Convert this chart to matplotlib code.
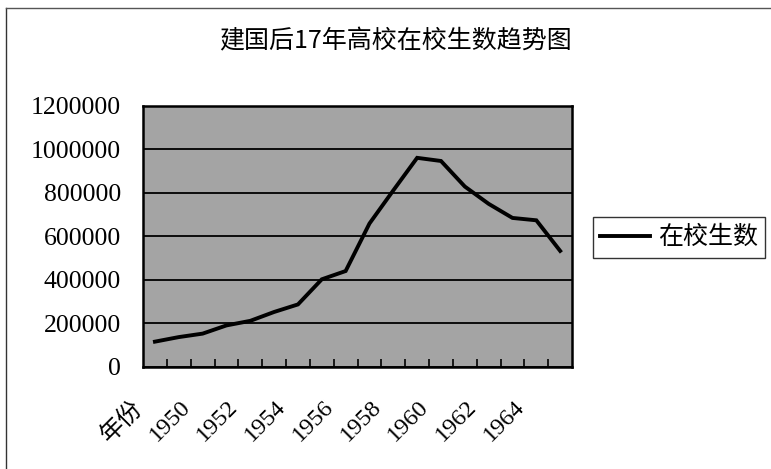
import numpy as np
import matplotlib
matplotlib.use("Agg")
import matplotlib.pyplot as plt
import matplotlib.transforms as mtransforms
from matplotlib.lines import Line2D

plt.rcParams['font.family'] = ['Liberation Serif', 'Noto Sans CJK SC']

# category axis (first cell is the header of the year column)
categories = ["年份", "1949", "1950", "1951", "1952", "1953", "1954", "1955", "1956",
              "1957", "1958", "1959", "1960", "1961", "1962", "1963", "1964", "1965"]
# 在校生数
students = [116504, 137470, 153402, 191147, 212181, 252978, 287653, 403176, 441181,
            659627, 811947, 961623, 947166, 829699, 750118, 685314, 674436, 533766]
yticks = [0, 200000, 400000, 600000, 800000, 1000000, 1200000]

title = "建国后17年高校在校生数趋势图"
series_name = "在校生数"
cjk = ['Noto Sans CJK SC', 'DejaVu Sans']

fig = plt.figure(figsize=(7.71, 4.69), dpi=100)
ax = fig.add_axes([0.1855, 0.2175, 0.5565, 0.5565])
ax.set_facecolor('#a4a4a4')

x = np.arange(len(categories))
line, = ax.plot(x, students, color='black', lw=2.8, solid_joinstyle='miter',
                label=series_name, zorder=3)

ax.set_xlim(-0.5, len(categories) - 0.5)
ax.set_ylim(yticks[0], yticks[-1])
ax.set_yticks(yticks)
ax.set_yticklabels([str(v) for v in yticks], fontsize=18.5)
ax.tick_params(axis='y', length=0, pad=16)
ax.grid(axis='y', color='black', lw=1.3)
ax.set_axisbelow(True)

# every other category label, rotated like a spreadsheet chart
ax.set_xticks(x[::2])
ax.set_xticklabels(categories[::2], rotation=45, ha='right', va='top', fontsize=17.5)
ax.tick_params(axis='x', length=0, pad=21)
shift = mtransforms.ScaledTranslation(-8 / 100, 0, fig.dpi_scale_trans)
for lab in ax.get_xticklabels():
    lab.set_transform(lab.get_transform() + shift)

# small inward marks on category boundaries
ax.set_xticks(np.arange(0.5, len(categories) - 1, 1.0), minor=True)
ax.tick_params(axis='x', which='minor', direction='in', length=6, width=1.2, color='black')

for s in ax.spines.values():
    s.set_linewidth(1.8)
    s.set_color('black')

fig.text(0.513, 1 - 41 / 469, title, ha='center', va='center', fontsize=18, family=cjk)

leg = ax.legend(handles=[line], loc='center left', bbox_to_anchor=(0.769, 0.494),
                bbox_transform=fig.transFigure, fancybox=False, frameon=True,
                edgecolor='black', prop={'family': cjk, 'size': 18},
                handlelength=2.0, handletextpad=0.3, borderpad=0.3, borderaxespad=0)
leg.get_frame().set_linewidth(1.0)

# outer chart-area border
fig.add_artist(Line2D([6 / 771, 6 / 771], [0, 1 - 8 / 469], color='#333333', lw=1.0,
                      transform=fig.transFigure))
fig.add_artist(Line2D([6 / 771, 1], [1 - 8 / 469, 1 - 8 / 469], color='#555555', lw=1.0,
                      transform=fig.transFigure))

fig.savefig("out.png", dpi=100)
